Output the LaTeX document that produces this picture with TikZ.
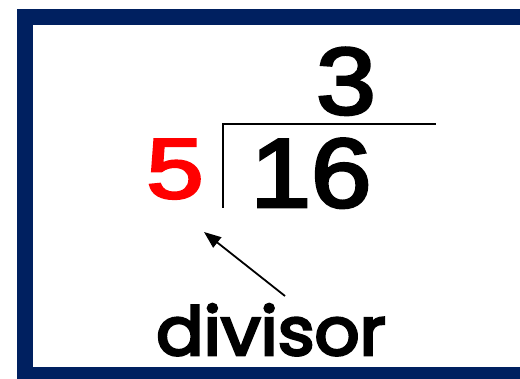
\documentclass[tikz,border=0pt]{standalone}
\usepackage{fontspec}
\setmainfont{Liberation Sans}
\newfontfamily\digitfont[FakeBold=3]{Liberation Sans}
\newfontfamily\comicfont[FakeBold=4]{Poppins}
\usetikzlibrary{arrows.meta}
\definecolor{navy}{HTML}{002060}
\definecolor{redfive}{HTML}{FF0000}
\tikzset{
  digit/.style={inner sep=0pt, anchor=base, font=\digitfont},
  bracket/.style={line width=1.3pt, black},
  pointer/.style={line width=1.8pt, -{Triangle[length=17pt,width=13pt]}}
}
\begin{document}
\begin{tikzpicture}[x=1pt,y=-1pt]
\useasboundingbox (0,0) rectangle (520,379);
\fill[white] (0,0) rectangle (520,379);
\fill[navy] (17,9) rectangle (520,379);
\fill[white] (33,25) rectangle (520,367);
\node[digit] (quot) at (346,114) {\fontsize{95}{95}\selectfont\scalebox{1.13}[1]{3}};
\node[digit] (divd) at (311,207) {\fontsize{98}{98}\selectfont\scalebox{1.11}[1]{16}};
\node[digit, text=redfive] (dvsr) at (175,198) {\fontsize{85}{85}\selectfont\scalebox{1.21}[1]{5}};
\coordinate (corner) at (223,124);
\coordinate (barend) at (436,124);
\coordinate (barfoot) at (223,208);
\draw[bracket] (barfoot) -- (corner) -- (barend);
\node[inner sep=0pt, anchor=base] (lbl) at (271,355) {\fontsize{67}{67}\selectfont\comicfont\scalebox{1.05}[1]{divisor}};
\coordinate (arrowstart) at (285,296);
\coordinate (arrowtip) at (204,232);
\draw[pointer] (arrowstart) -- (arrowtip);
\end{tikzpicture}
\end{document}
